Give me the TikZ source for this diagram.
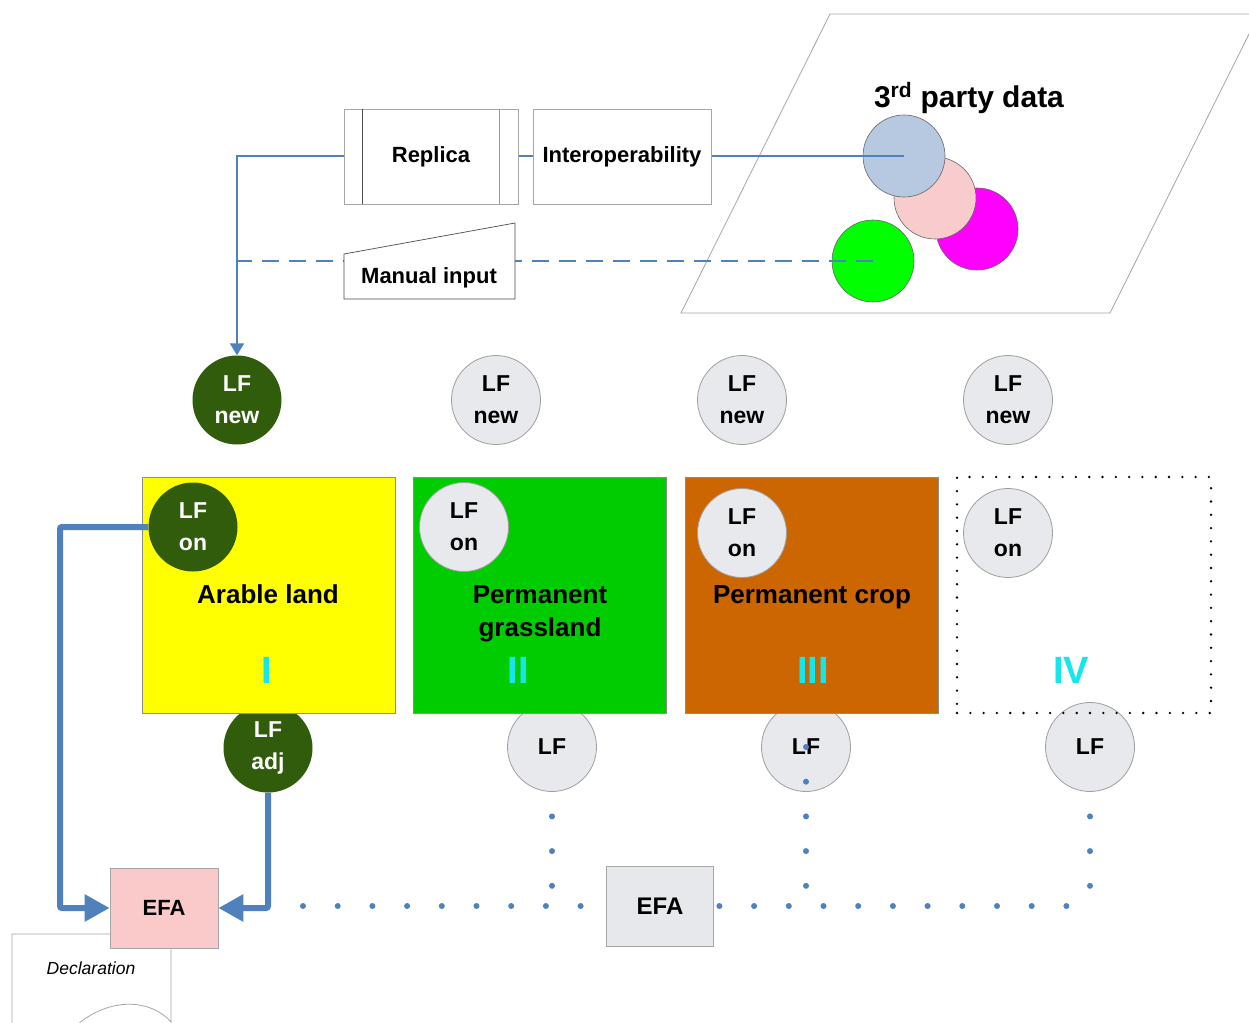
\documentclass[tikz,border=0pt]{standalone}
\usepackage{fontspec}
\setmainfont{Liberation Sans}
\usetikzlibrary{arrows.meta,backgrounds}
\definecolor{dkgreen}{RGB}{49,92,12}
\definecolor{lfgray}{RGB}{231,233,237}
\definecolor{lineblue}{RGB}{79,129,189}
\definecolor{boxyellow}{RGB}{255,255,0}
\definecolor{boxgreen}{RGB}{0,204,0}
\definecolor{boxorange}{RGB}{204,102,0}
\definecolor{numcyan}{RGB}{20,230,235}
\definecolor{efapink}{RGB}{250,202,202}
\definecolor{efagray}{RGB}{230,232,236}
\definecolor{cblue}{RGB}{183,201,225}
\definecolor{cpink}{RGB}{248,204,204}
\definecolor{cmag}{RGB}{255,0,255}
\definecolor{cgreen}{RGB}{0,255,0}
\begin{document}
\begin{tikzpicture}[x=1pt,y=-1pt,
 lfdark/.style={circle,fill=dkgreen,minimum size=89pt,inner sep=0pt,text=white,font=\fontsize{23}{32}\selectfont\bfseries,align=center},
 lfg/.style={circle,fill=lfgray,draw=gray!75,line width=0.8pt,minimum size=89pt,inner sep=0pt,text=black,font=\fontsize{23}{32}\selectfont\bfseries,align=center},
 area/.style={rectangle,draw=black!45,line width=0.8pt,minimum width=253pt,minimum height=236pt,inner sep=0pt},
 areatext/.style={anchor=base,font=\fontsize{26}{30}\selectfont\bfseries},
 roman/.style={text=numcyan,font=\fontsize{38}{40}\selectfont\bfseries},
 procbox/.style={rectangle,draw=gray!70,fill=white,line width=0.8pt,minimum height=95pt,inner sep=0pt,font=\fontsize{22}{26}\selectfont\bfseries},
 datacirc/.style={circle,draw=black!60,line width=0.6pt,minimum size=82pt,inner sep=0pt},
 thinblue/.style={draw=lineblue,line width=2.2pt},
 thickblue/.style={draw=lineblue,line width=6pt,rounded corners=2pt,-{Triangle[length=25pt,width=26pt]}},
 bluedots/.style={draw=lineblue,line width=6pt,line cap=round,dash pattern=on 0pt off 34.7pt},
 efabox/.style={rectangle,draw=gray!70,line width=0.8pt,inner sep=0pt},
]
\useasboundingbox (0,0) rectangle (1249,1022);
\clip (0,0) rectangle (1249,1022);

% 3rd party data plane
\draw[draw=gray!70,line width=0.8pt] (830,14) -- (1259,14) -- (1110,313) -- (681,313) -- cycle;
\node[font=\fontsize{30}{33}\selectfont\bfseries,anchor=base] (tpd) at (969,107) {3\textsuperscript{rd} party data};
\node[datacirc,fill=cmag] (c3) at (977,229) {};
\node[datacirc,fill=cpink] (c2) at (935,198) {};
\node[datacirc,fill=cblue] (c1) at (904,156) {};
\node[datacirc,fill=cgreen] (c4) at (873,261) {};

% LF new row
\node[lfdark] (lfn1) at (237,400) {LF\\new};
\node[lfg] (lfn2) at (496,400) {LF\\new};
\node[lfg] (lfn3) at (742,400) {LF\\new};
\node[lfg] (lfn4) at (1008,400) {LF\\new};

% thin blue connectors
\coordinate (j1) at (237,156);
\coordinate (j2) at (237,261);
\draw[thinblue,-{Triangle[length=12pt,width=14pt]}] (c1.center) -- (j1) -- (lfn1);
\draw[thinblue,dash pattern=on 17pt off 10pt] (c4.center) -- (j2);

% replica / interoperability / manual input
\node[procbox,minimum width=174pt] (replica) at (431,156.5) {Replica};
\draw[black!70,line width=0.8pt] ([xshift=19pt]replica.north west) -- ([xshift=19pt]replica.south west);
\draw[black!40,line width=0.8pt] ([xshift=-19pt]replica.north east) -- ([xshift=-19pt]replica.south east);
\node[procbox,minimum width=178pt] (interop) at (622,156.5) {Interoperability};
\draw[draw=black!70,fill=white,line width=0.7pt] (344,254) -- (515,223) -- (515,299) -- (344,299) -- cycle;
\node[font=\fontsize{22}{26}\selectfont\bfseries,anchor=base] (manual) at (429,283) {Manual input};

% bottom LF circles and dotted lines
\coordinate (hs) at (303,906);
\coordinate (he) at (1073,906);
\node[lfdark] (lfb1) at (268,748) {LF\\adj};
\node[lfg] (lfb2) at (552,747) {LF};
\node[lfg] (lfb3) at (806,747) {LF};
\node[lfg] (lfb4) at (1090,747) {LF};
\begin{scope}[on background layer]
\fill[white] (0,0) rectangle (1249,1022);
\draw[bluedots] (hs) -- (he);
\draw[bluedots] (lfb2.center) -- (lfb2.center |- hs);
\draw[bluedots] (lfb4.center) -- (lfb4.center |- hs);
\end{scope}
\draw[bluedots] (lfb3.center) -- (lfb3.center |- hs);

% land areas
\node[area,fill=boxyellow] (arable) at (268.5,595) {};
\node[area,fill=boxgreen] (grass) at (539.5,595) {};
\node[area,fill=boxorange] (crop) at (811.5,595) {};
\node[area,draw=black,line width=2.6pt,line cap=round,dash pattern=on 0pt off 13.3pt,minimum width=254pt] (other) at (1084,595) {};

\node[lfdark] (lfo1) at (193,527) {LF\\on};
\node[lfg] (lfo2) at (464,527) {LF\\on};
\node[lfg] (lfo3) at (742,533) {LF\\on};
\node[lfg] (lfo4) at (1008,533) {LF\\on};

\node[areatext] (t1) at (268,603) {Arable land};
\node[areatext] (t2a) at (540,603) {Permanent};
\node[areatext] (t2b) at (540,636) {grassland};
\node[areatext] (t3) at (812,603) {Permanent crop};
\node[roman] (r1) at (267,670) {I};
\node[roman] (r2) at (518,670) {II};
\node[roman] (r3) at (813,670) {III};
\node[roman] (r4) at (1071,670) {IV};

% declaration and EFA
\draw[draw=gray!70,fill=white,line width=0.8pt] (12,1040) -- (12,934) -- (171,934) -- (171,1022)
  .. controls (152,1000) and (112,996) .. (78,1024) .. controls (55,1042) and (30,1044) .. (12,1040);
\node[font=\fontsize{17.5}{20}\selectfont\itshape] (decl) at (91,968) {Declaration};
\node[efabox,fill=efapink,minimum width=108pt,minimum height=80pt,font=\fontsize{22}{26}\selectfont\bfseries] (efa1) at (164,908) {EFA};
\node[efabox,fill=efagray,minimum width=107pt,minimum height=80pt,font=\fontsize{24}{28}\selectfont\bfseries] (efa2) at (660,906) {EFA};

% thick arrows
\coordinate (k1) at (60,527);
\draw[thickblue] (lfo1.west) -- (k1) |- (efa1.west);
\draw[thickblue] (lfb1.south) |- (efa1.east);
\end{tikzpicture}
\end{document}
